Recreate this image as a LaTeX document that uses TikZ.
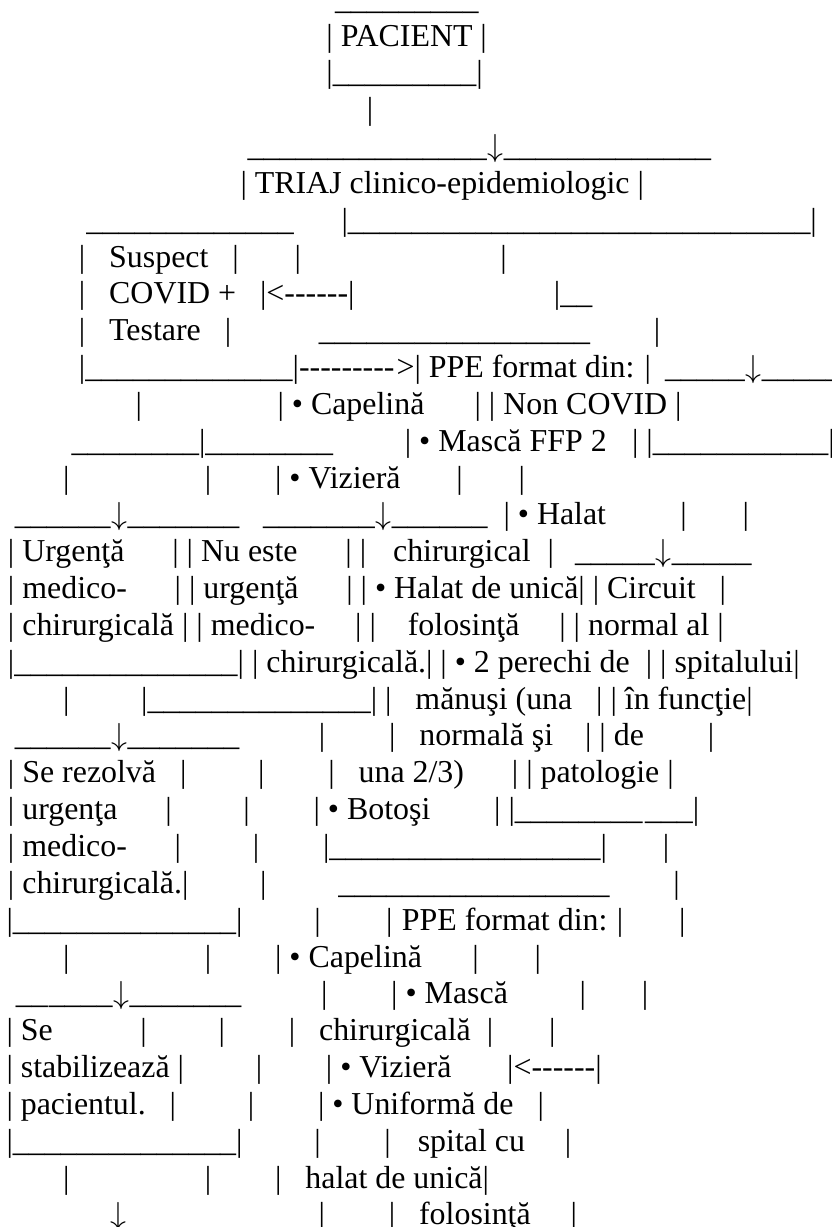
\documentclass[tikz,border=0pt]{standalone}
\usepackage{graphicx}
\usepackage{fontspec}
\setmainfont{Liberation Serif}[Ligatures=TeXOff]
\ExplSyntaxOn
\NewDocumentCommand\uux{m}{\prg_replicate:nn{#1}{\textunderscore}}
\ExplSyntaxOff
\newcommand\sk[1]{\hspace*{\dimexpr0.25em*#1\relax}}
\newcommand\dn{\makebox[0.535em]{\scalebox{3.19}{\fontsize{10}{12}\selectfont$\downarrow$}}}
\newcommand\yy[1]{{-(9.16+(#1-1)*36.84)}}
\tikzset{ln/.style={anchor=base west,inner sep=0pt,outer sep=0pt,font=\fontsize{31.9}{36.84}\selectfont}}
\begin{document}
\begin{tikzpicture}[x=1pt,y=1pt]
\fill[white] (0,0) rectangle (831,-1227);
\useasboundingbox (0,0) rectangle (831,-1227);
\node[ln] (line1) at (335,\yy{1}) {\uux{9}};
\node[ln] (line2) at (326.4,\yy{2}) {|\sk{1}PACIENT\sk{1}|};
\node[ln] (line3) at (326.4,\yy{3}) {|\uux{9}|};
\node[ln] (line4) at (366.8,\yy{4}) {|};
\node[ln] (line5) at (247.5,\yy{5}) {\uux{15}\dn\uux{13}};
\node[ln] (line6) at (240.5,\yy{6}) {|\sk{1}TRIAJ clinico-epidemiologic\sk{1}|};
\node[ln] (line7) at (86.4,\yy{7}) {\uux{13}\sk{6}|\uux{29}|};
\node[ln] (line8) at (78.9,\yy{8}) {|\sk{3}Suspect\sk{3}|\sk{7}|\sk{25}|};
\node[ln] (line9) at (78.9,\yy{9}) {|\sk{3}COVID +\sk{3}|<------|\sk{25}|\uux{2}};
\node[ln] (line10) at (78.9,\yy{10}) {|\sk{3}Testare\sk{3}|\sk{11}\uux{17}\sk{8}|};
\node[ln] (line11) at (78.9,\yy{11}) {|\uux{13}|---------\hspace*{2pt}>|\sk{1}PPE format din:\sk{1}\hspace*{2pt}|};
\node[ln] (line11b) at (665,\yy{11}) {\uux{5}\dn\uux{5}};
\node[ln] (line12) at (135.6,\yy{12}) {|\sk{17}|\sk{1}• Capelină\sk{6}\hspace*{2.3pt}|\sk{1}|\sk{1}Non COVID\sk{1}|};
\node[ln] (line13) at (71.5,\yy{13}) {\uux{8}|\uux{8}\sk{9}|\sk{1}• Mască FFP 2\sk{3}\hspace*{1.5pt}|\sk{1}|\uux{11}|};
\node[ln] (line14) at (63,\yy{14}) {|\sk{17}|\sk{8}|\sk{1}• Vizieră\sk{7}|\sk{7}|};
\node[ln] (line15) at (14.8,\yy{15}) {\uux{6}\dn\uux{7}\sk{3}\uux{7}\dn\uux{6}\sk{2}|\sk{1}• Halat\sk{9}\hspace*{2.5pt}|\sk{7}|};
\node[ln] (line16) at (8,\yy{16}) {|\sk{1}Urgenţă\sk{6}|\sk{1}|\sk{1}Nu este\sk{6}|\sk{1}|\sk{3}\hspace*{3pt}chirurgical\sk{2}\hspace*{1pt}|};
\node[ln] (line16b) at (575,\yy{16}) {\uux{5}\dn\uux{5}};
\node[ln] (line17) at (8,\yy{17}) {|\sk{1}medico-\sk{6}|\sk{1}|\sk{1}urgenţă\sk{6}|\sk{1}|\sk{1}• Halat de unică|\sk{1}|\sk{1}Circuit\sk{3}|};
\node[ln] (line18) at (8,\yy{18}) {|\sk{1}chirurgicală\sk{1}|\sk{1}|\sk{1}medico-\sk{5}|\sk{1}|\sk{4}folosinţă\sk{5}|\sk{1}|\sk{1}normal al\sk{1}|};
\node[ln] (line19) at (8,\yy{19}) {|\uux{14}|\sk{1}|\sk{1}chirurgicală.|\sk{1}|\sk{1}• 2 perechi de\sk{2}|\sk{1}|\sk{1}spitalului|};
\node[ln] (line20) at (63,\yy{20}) {|\sk{9}|\uux{14}|\sk{1}|\sk{3}mănuşi (una\sk{3}|\sk{1}|\sk{1}în funcţie|};
\node[ln] (line21) at (14.8,\yy{21}) {\uux{6}\dn\uux{7}\sk{10}|\sk{8}|\sk{3}normală şi\sk{4}|\sk{1}|\sk{1}de\sk{8}|};
\node[ln] (line22) at (8,\yy{22}) {|\sk{1}Se rezolvă\sk{3}|\sk{9}|\sk{8}|\sk{3}una 2/3)\sk{6}|\sk{1}|\sk{1}patologie\sk{1}|};
\node[ln] (line23) at (8,\yy{23}) {|\sk{1}urgenţa\sk{6}|\sk{9}|\sk{8}|\sk{1}• Botoşi\sk{8}|\sk{1}|\uux{8}\hspace*{2.5pt}\uux{3}|};
\node[ln] (line24) at (8,\yy{24}) {|\sk{1}medico-\sk{6}|\sk{9}|\sk{8}|\uux{17}|\sk{7}|};
\node[ln] (line25) at (8,\yy{25}) {|\sk{1}chirurgicală.|\sk{9}|\sk{9}\uux{17}\sk{8}|};
\node[ln] (line26) at (6.5,\yy{26}) {|\uux{14}|\sk{9}|\sk{8}\hspace*{1.5pt}|\sk{1}\hspace*{1.5pt}PPE format din:\sk{1}\hspace*{1.5pt}|\sk{7}|};
\node[ln] (line27) at (63,\yy{27}) {|\sk{17}|\sk{8}|\sk{1}• Capelină\sk{6}\hspace*{2.5pt}|\sk{7}|};
\node[ln] (line28) at (15.9,\yy{28}) {\uux{2}\hspace*{1pt}\uux{4}\dn\uux{7}\sk{10}|\sk{8}|\sk{1}• Mască\sk{9}|\sk{7}|};
\node[ln] (line29) at (6.5,\yy{29}) {|\sk{1}Se\sk{11}|\sk{9}|\sk{8}|\sk{3}chirurgicală\sk{2}|\sk{7}|};
\node[ln] (line30) at (6.5,\yy{30}) {|\sk{1}stabilizează\sk{1}|\sk{9}|\sk{8}|\sk{1}• Vizieră\sk{7}|<------|};
\node[ln] (line31) at (6.5,\yy{31}) {|\sk{1}pacientul.\sk{3}|\sk{9}|\sk{8}|\sk{1}• Uniformă de\sk{3}|};
\node[ln] (line32) at (6.5,\yy{32}) {|\uux{14}|\sk{9}|\sk{8}|\sk{3}\hspace*{3pt}spital cu\sk{5}|};
\node[ln] (line33) at (63,\yy{33}) {|\sk{17}|\sk{8}|\sk{3}halat de unică|};
\node[ln] (line34) at (110.2,\yy{34}) {\dn\sk{24}|\sk{8}|\sk{3}folosinţă\sk{5}|};
\end{tikzpicture}
\end{document}
